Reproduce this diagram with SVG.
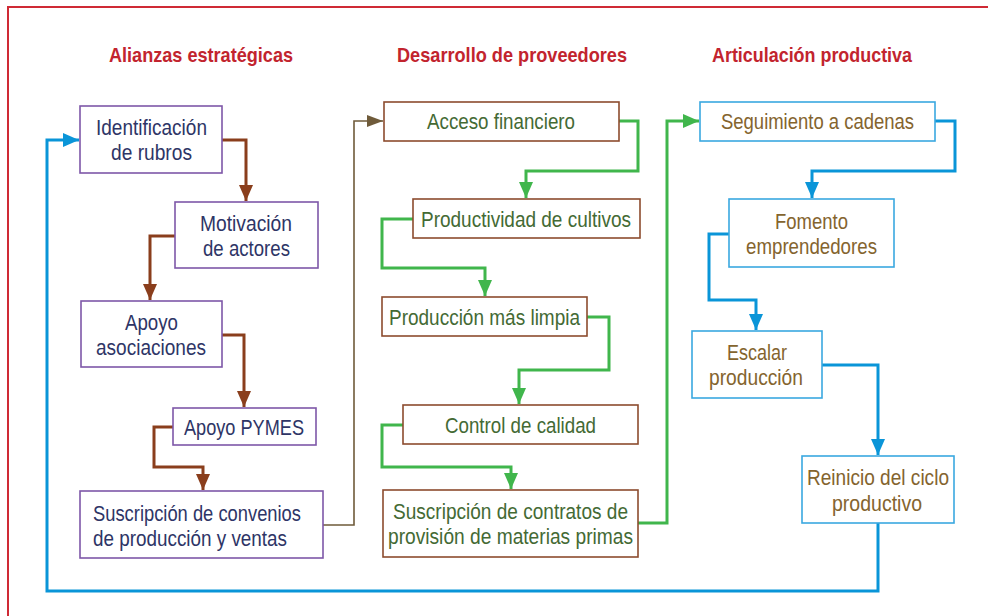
<svg xmlns="http://www.w3.org/2000/svg" width="988" height="616" viewBox="0 0 988 616">
<defs>
<style>
.title{font-family:"Liberation Sans",Arial,sans-serif;font-weight:bold;font-size:21px;fill:#c2242e}
.t{font-family:"Liberation Sans",Arial,sans-serif;font-size:22px}
.c1 rect{fill:#fff;stroke:#7e57a8;stroke-width:1.6}
.c1 text{fill:#2e3566}
.c2 rect{fill:#fff;stroke:#8c4b2e;stroke-width:1.6}
.c2 text{fill:#446a34}
.c3 rect{fill:#fff;stroke:#3aa8e0;stroke-width:1.6}
.c3 text{fill:#84642e}
.brown{fill:none;stroke:#8a3e1c;stroke-width:3;marker-end:url(#ab)}
.green{fill:none;stroke:#40b64c;stroke-width:3;marker-end:url(#ag)}
.blue{fill:none;stroke:#0a95d8;stroke-width:3;marker-end:url(#ac)}
.olive{fill:none;stroke:#6f5b3a;stroke-width:1.6;marker-end:url(#ao)}
</style>
<marker id="ab" markerUnits="userSpaceOnUse" markerWidth="16" markerHeight="16" viewBox="0 0 16 14" refX="16" refY="7" orient="auto"><path d="M0,0 L16,7 L0,14 z" fill="#8a3e1c"/></marker>
<marker id="ag" markerUnits="userSpaceOnUse" markerWidth="16" markerHeight="16" viewBox="0 0 16 14" refX="16" refY="7" orient="auto"><path d="M0,0 L16,7 L0,14 z" fill="#40b64c"/></marker>
<marker id="ac" markerUnits="userSpaceOnUse" markerWidth="16" markerHeight="16" viewBox="0 0 16 14" refX="16" refY="7" orient="auto"><path d="M0,0 L16,7 L0,14 z" fill="#0a95d8"/></marker>
<marker id="ao" markerUnits="userSpaceOnUse" markerWidth="16" markerHeight="16" viewBox="0 0 16 12" refX="16" refY="6" orient="auto"><path d="M0,0 L16,6 L0,12 z" fill="#6f5b3a"/></marker>
</defs>
<rect x="0" y="0" width="988" height="616" fill="#fff"/>
<rect x="8" y="7" width="1000" height="700" fill="none" stroke="#cf2a35" stroke-width="2"/>

<g id="titles">
<text class="title" x="109" y="62" textLength="184" lengthAdjust="spacingAndGlyphs">Alianzas estratégicas</text>
<text class="title" x="397" y="62" textLength="230" lengthAdjust="spacingAndGlyphs">Desarrollo de proveedores</text>
<text class="title" x="712" y="62" textLength="200" lengthAdjust="spacingAndGlyphs">Articulación productiva</text>
</g>

<g id="connectors">
<path class="brown" d="M222,140 H246 V201"/>
<path class="brown" d="M175,236 H150 V300"/>
<path class="brown" d="M222,335 H244 V407"/>
<path class="brown" d="M173,427 H154 V467 H203 V490"/>
<path class="olive" d="M323,525 H354 V121 H383"/>
<path class="green" d="M619,121 H638 V171 H526 V198"/>
<path class="green" d="M413,219 H382 V268 H485 V296"/>
<path class="green" d="M587,317 H609 V370 H519 V404"/>
<path class="green" d="M403,425 H382 V467 H511 V489"/>
<path class="green" d="M638,523 H667 V121 H699"/>
<path class="blue" d="M935,121 H955 V171 H812 V198"/>
<path class="blue" d="M729,234 H709 V300 H756 V330"/>
<path class="blue" d="M822,365 H878 V455"/>
<path class="blue" d="M878,523 V591 H47 V140 H79"/>
</g>

<g id="n-identificacion" class="c1 t"><rect x="80" y="106" width="142" height="67"/><text x="96" y="135" textLength="111" lengthAdjust="spacingAndGlyphs">Identificación</text><text x="111" y="160" textLength="81" lengthAdjust="spacingAndGlyphs">de rubros</text></g>
<g id="n-motivacion" class="c1 t"><rect x="175" y="202" width="143" height="66"/><text x="200" y="230.5" textLength="92" lengthAdjust="spacingAndGlyphs">Motivación</text><text x="203" y="255.5" textLength="87" lengthAdjust="spacingAndGlyphs">de actores</text></g>
<g id="n-asociaciones" class="c1 t"><rect x="81" y="301" width="141" height="66"/><text x="125" y="329.5" textLength="53" lengthAdjust="spacingAndGlyphs">Apoyo</text><text x="96" y="354.5" textLength="110" lengthAdjust="spacingAndGlyphs">asociaciones</text></g>
<g id="n-pymes" class="c1 t"><rect x="173" y="408" width="143" height="37"/><text x="184" y="435" textLength="120" lengthAdjust="spacingAndGlyphs">Apoyo PYMES</text></g>
<g id="n-convenios" class="c1 t"><rect x="80" y="491" width="243" height="67"/><text x="93" y="521" textLength="208" lengthAdjust="spacingAndGlyphs">Suscripción de convenios</text><text x="93" y="546" textLength="194" lengthAdjust="spacingAndGlyphs">de producción y ventas</text></g>

<g id="n-acceso" class="c2 t"><rect x="384" y="102" width="235" height="39"/><text x="427" y="129" textLength="148" lengthAdjust="spacingAndGlyphs">Acceso financiero</text></g>
<g id="n-productividad" class="c2 t"><rect x="413" y="199" width="227" height="39"/><text x="421" y="227" textLength="210" lengthAdjust="spacingAndGlyphs">Productividad de cultivos</text></g>
<g id="n-limpia" class="c2 t"><rect x="382" y="297" width="205" height="39"/><text x="389" y="325" textLength="191" lengthAdjust="spacingAndGlyphs">Producción más limpia</text></g>
<g id="n-calidad" class="c2 t"><rect x="403" y="405" width="235" height="39"/><text x="445" y="433" textLength="151" lengthAdjust="spacingAndGlyphs">Control de calidad</text></g>
<g id="n-contratos" class="c2 t"><rect x="383" y="490" width="255" height="67"/><text x="393" y="518.5" textLength="235" lengthAdjust="spacingAndGlyphs">Suscripción de contratos de</text><text x="388" y="544" textLength="245" lengthAdjust="spacingAndGlyphs">provisión de materias primas</text></g>

<g id="n-seguimiento" class="c3 t"><rect x="700" y="102" width="235" height="39"/><text x="721" y="129" textLength="193" lengthAdjust="spacingAndGlyphs">Seguimiento a cadenas</text></g>
<g id="n-fomento" class="c3 t"><rect x="729" y="199" width="165" height="68"/><text x="775" y="228.5" textLength="73" lengthAdjust="spacingAndGlyphs">Fomento</text><text x="746" y="253.5" textLength="131" lengthAdjust="spacingAndGlyphs">emprendedores</text></g>
<g id="n-escalar" class="c3 t"><rect x="692" y="331" width="130" height="67"/><text x="727" y="359.5" textLength="60" lengthAdjust="spacingAndGlyphs">Escalar</text><text x="709" y="385" textLength="94" lengthAdjust="spacingAndGlyphs">producción</text></g>
<g id="n-reinicio" class="c3 t"><rect x="802" y="456" width="152" height="67"/><text x="807" y="485" textLength="142" lengthAdjust="spacingAndGlyphs">Reinicio del ciclo</text><text x="832" y="510.5" textLength="90" lengthAdjust="spacingAndGlyphs">productivo</text></g>
</svg>
